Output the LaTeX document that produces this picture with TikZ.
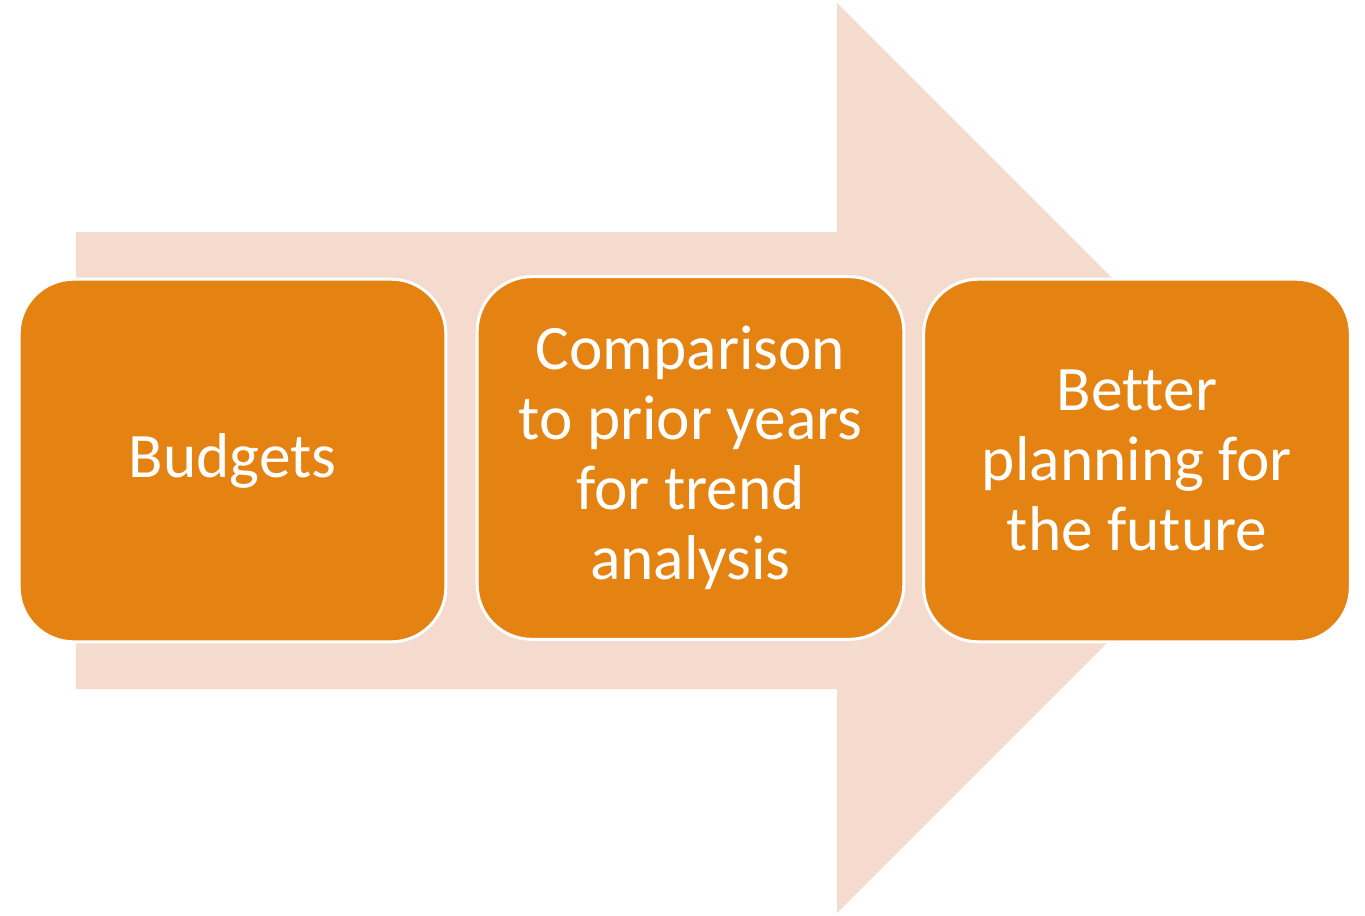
\documentclass[tikz,border=0pt]{standalone}
\usepackage{fontspec}
\setmainfont{Carlito}[Ligatures=NoCommon]
\definecolor{orng}{RGB}{228,131,18}
\definecolor{pale}{RGB}{245,218,206}
\tikzset{
  stepbox/.style={fill=orng, draw=white, line width=2.25pt, rounded corners=41pt,
    minimum width=320pt, minimum height=272pt, align=center, text=white,
    font=\fontsize{47.5}{52.5}\selectfont},
}

\begin{document}
\begin{tikzpicture}[x=0.75pt,y=-0.75pt]
\useasboundingbox (0,0) rectangle (1365,915);
% big arrow behind
\fill[color=pale] (76,232) -- (837,232) -- (837,3) -- (1292,458) -- (837,913) -- (837,689) -- (76,689) -- cycle;
% boxes
\node[stepbox] (budgets) at (232.5,460.5) {Budgets};
\node[stepbox] (compare) at (690.5,458) {Comparison\\to prior years\\for trend\\analysis};
\node[stepbox] (planning) at (1137,460.5) {Better\\planning for\\the future};
\end{tikzpicture}
\end{document}
